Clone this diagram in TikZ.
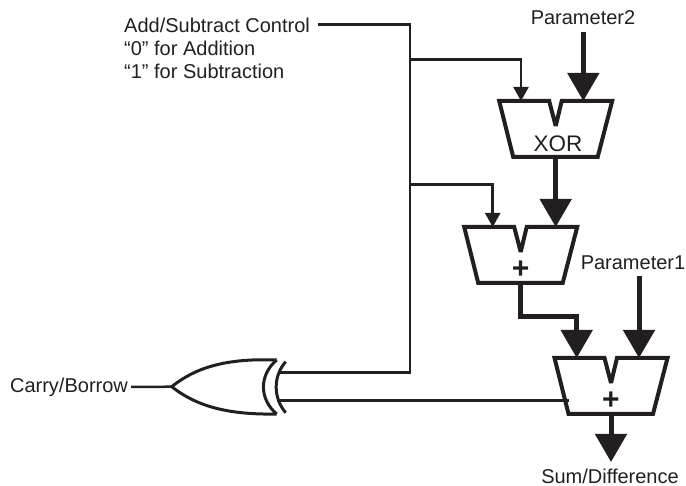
\documentclass[tikz,border=0pt]{standalone}
\usepackage{fontspec}
\setmainfont{Liberation Sans}
\usetikzlibrary{arrows.meta}

\definecolor{inkcol}{RGB}{35, 31, 32}

\tikzset{
  label/.style={inner sep=0pt, text=inkcol, font=\fontsize{20}{23}\selectfont},
  thinwire/.style={draw=inkcol, line width=2.5pt},
  thinarrow/.style={thinwire, -{Triangle[length=14pt,width=15pt]}},
  busarrow/.style={draw=inkcol, line width=5pt, miter limit=3, -{Triangle[length=28pt,width=31pt]}},
  gateline/.style={draw=inkcol, line width=3pt},
  muxblock/.pic={
    \draw[inkcol, line width=4pt, miter limit=3] (-56.5,0) -- (-6.5,0) -- (0,25) -- (6,0) -- (56.5,0)
      -- (42,56) -- (-42.5,56) -- cycle;
  }
}

\begin{document}
\begin{tikzpicture}[x=1pt, y=-1pt]
        \useasboundingbox (0,0) rectangle (686,486);

        % Adder and xor blocks
        \pic at (555.7,101) {muxblock};
        \pic at (520.7,227) {muxblock};
        \pic at (611,358) {muxblock};

        % Block labels
        \node[label, font=\fontsize{22.5}{24}\selectfont] (xorname) at (558,143.5) {XOR};
        \node[label, font=\fontsize{30}{30}\selectfont\bfseries] (plusA) at (520.7,270) {+};
        \node[label, font=\fontsize{30}{30}\selectfont\bfseries] (plusB) at (611,401) {+};

        % Signal labels
        \node[label, anchor=base west, align=left] (ctrl) at (124,79) {Add/Subtract Control\\“0” for Addition\\“1” for Subtraction};
        \node[label] (param2) at (583,18) {Parameter2};
        \node[label] (param1) at (633,263) {Parameter1};
        \node[label] (carry) at (69,387) {Carry/Borrow};
        \node[label] (sumdiff) at (610,476) {Sum/Difference};

        % Pins of the blocks
        \coordinate (xorL) at (521,101);
        \coordinate (xorR) at (583.3,101);
        \coordinate (xorO) at (555.7,157);
        \coordinate (addAL) at (492.7,227);
        \coordinate (addAR) at (555.7,227);
        \coordinate (addAO) at (520.7,283);
        \coordinate (addBL) at (576.7,358);
        \coordinate (addBR) at (639,358);
        \coordinate (addBC) at (569,400.7);
        \coordinate (addBO) at (611,414);
        \coordinate (sumtip) at (611,462);

        % Free ends and junctions
        \coordinate (ctrlend) at (318,24.7);
        \coordinate (trunkA) at (410,59.7);
        \coordinate (trunkB) at (410,184.3);
        \coordinate (trunkEnd) at (410,372.7);
        \coordinate (param2end) at (583.3,32);
        \coordinate (param1end) at (639,276);

        % Thick buses
        \draw[busarrow] (param2end) -- (xorR);
        \draw[busarrow] (xorO) -- (addAR);
        \draw[busarrow] (param1end) -- (addBR);
        \draw[busarrow] (addAO) |- (520.7,316.7) -| (addBL);
        \draw[busarrow] (addBO) -- (sumtip);

        % Control wiring
        \draw[thinwire] (ctrlend) -| (trunkEnd) -- (279,372.7);
        \draw[thinarrow] (trunkA) -| (xorL);
        \draw[thinarrow] (trunkB) -| (addAL);
        \draw[thinwire] (277,400.7) -- (addBC);
        \draw[thinwire] (carry.east) ++(3,0) -- (171.7,386.7);

        % Gate outline
        \draw[gateline, line join=miter] (276.7,360) .. controls (225,358) and (195,368) .. (171.7,386.7)
          .. controls (195,405) and (225,415) .. (276.7,414);
        \draw[gateline] (276.7,360) .. controls (259,375) and (259,399) .. (276.7,414);
        \draw[gateline] (285.7,361.7) .. controls (273,376) and (273,398) .. (285.7,412.7);
      \end{tikzpicture}
\end{document}
